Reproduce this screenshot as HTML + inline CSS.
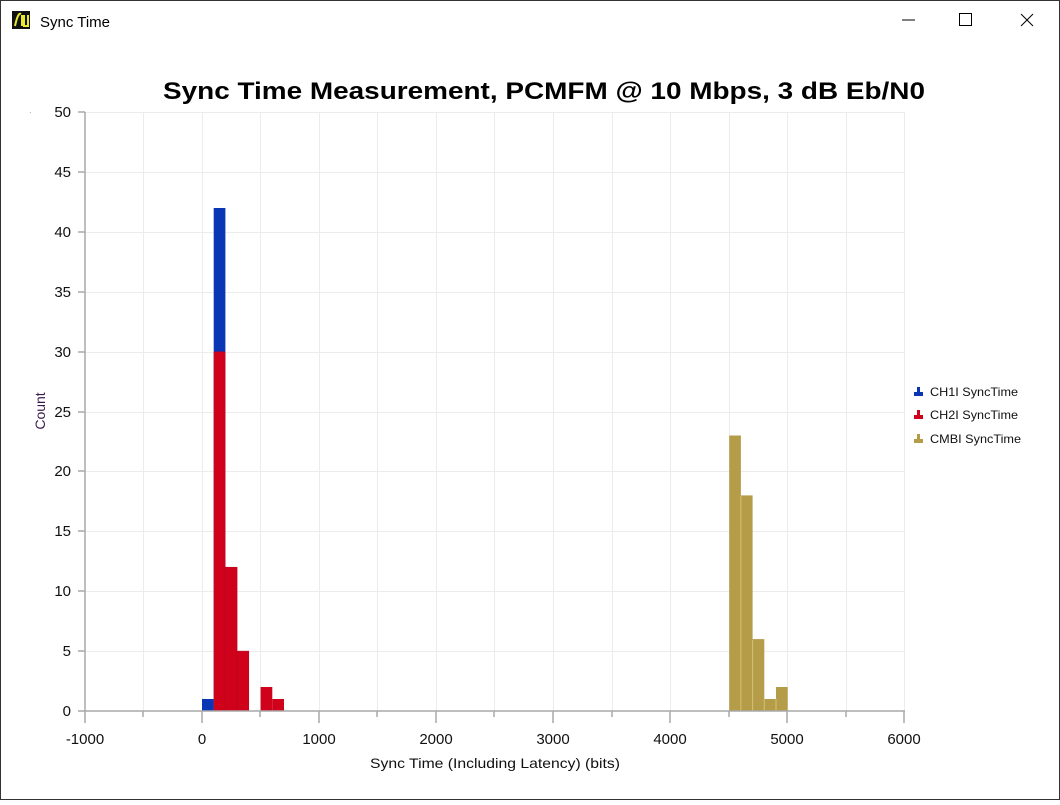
<!DOCTYPE html>
<html><head><style>
body{margin:0;width:1060px;height:800px;overflow:hidden;background:#fff;font-family:"Liberation Sans",sans-serif}
</style></head><body>
<svg width="1060" height="800" xmlns="http://www.w3.org/2000/svg" font-family="Liberation Sans, sans-serif">
<rect x="0.5" y="0.5" width="1059" height="799" fill="#fff" stroke="#333"/>
<rect x="12" y="11" width="18" height="18" fill="#111"/>
<path d="M15 26 Q18 12 21 14 M22 15 L22 26 M24 15 L24 26 L28 26 L28 15" stroke="#e8e830" stroke-width="2" fill="none"/>
<text x="40" y="27" font-size="15" fill="#000">Sync Time</text>
<line x1="902" y1="20" x2="915" y2="20" stroke="#000"/>
<rect x="959.5" y="13.5" width="12" height="12" fill="none" stroke="#000"/>
<path d="M1021 14 L1033 26 M1033 14 L1021 26" stroke="#000"/>
<text x="163" y="99" font-size="24" font-weight="bold" fill="#000" textLength="762" lengthAdjust="spacingAndGlyphs">Sync Time Measurement, PCMFM @ 10 Mbps, 3 dB Eb/N0</text>
<text x="29" y="115" font-size="8" fill="#88a">·</text>
<g stroke="#ececec" stroke-width="1">
<line x1="85" y1="112.5" x2="905" y2="112.5"/><line x1="85" y1="172.5" x2="905" y2="172.5"/><line x1="85" y1="232.5" x2="905" y2="232.5"/><line x1="85" y1="292.5" x2="905" y2="292.5"/><line x1="85" y1="352.5" x2="905" y2="352.5"/><line x1="85" y1="412.5" x2="905" y2="412.5"/><line x1="85" y1="471.5" x2="905" y2="471.5"/><line x1="85" y1="531.5" x2="905" y2="531.5"/><line x1="85" y1="591.5" x2="905" y2="591.5"/><line x1="85" y1="651.5" x2="905" y2="651.5"/>
<line x1="143.5" y1="112" x2="143.5" y2="711"/><line x1="202.5" y1="112" x2="202.5" y2="711"/><line x1="260.5" y1="112" x2="260.5" y2="711"/><line x1="319.5" y1="112" x2="319.5" y2="711"/><line x1="377.5" y1="112" x2="377.5" y2="711"/><line x1="436.5" y1="112" x2="436.5" y2="711"/><line x1="494.5" y1="112" x2="494.5" y2="711"/><line x1="553.5" y1="112" x2="553.5" y2="711"/><line x1="612.5" y1="112" x2="612.5" y2="711"/><line x1="670.5" y1="112" x2="670.5" y2="711"/><line x1="729.5" y1="112" x2="729.5" y2="711"/><line x1="787.5" y1="112" x2="787.5" y2="711"/><line x1="846.5" y1="112" x2="846.5" y2="711"/><line x1="904.5" y1="112" x2="904.5" y2="711"/>
</g>
<g>
<rect x="202" y="699" width="11.7" height="12" fill="#0a35b5"/>
<rect x="213.7" y="208" width="11.7" height="503" fill="#0a35b5"/>
<rect x="213.7" y="351.6" width="11.7" height="359.4" fill="#d0021b"/>
<rect x="225.4" y="567.2" width="11.7" height="143.8" fill="#d0021b" stroke="#b8001a" stroke-width="0.5"/>
<rect x="237.1" y="651.1" width="11.7" height="59.9" fill="#d0021b" stroke="#b8001a" stroke-width="0.5"/>
<rect x="260.6" y="687" width="11.7" height="24" fill="#d0021b"/>
<rect x="272.3" y="699" width="11.7" height="12" fill="#d0021b"/>
<rect x="729.2" y="435.5" width="11.7" height="275.5" fill="#b59c48"/>
<rect x="740.9" y="495.4" width="11.7" height="215.6" fill="#b59c48"/>
<rect x="752.6" y="639.1" width="11.7" height="71.9" fill="#b59c48"/>
<rect x="764.3" y="699" width="11.7" height="12" fill="#b59c48"/>
<rect x="776" y="687" width="11.7" height="24" fill="#b59c48"/>
<g stroke="#d4c07a" stroke-width="1"><line x1="740.9" y1="496" x2="740.9" y2="711"/><line x1="752.6" y1="640" x2="752.6" y2="711"/><line x1="764.3" y1="699" x2="764.3" y2="711"/><line x1="776" y1="699" x2="776" y2="711"/></g>
</g>
<g stroke="#a8a8a8" stroke-width="1.5">
<line x1="85" y1="112" x2="85" y2="711"/><line x1="85" y1="711" x2="905" y2="711"/>
<line x1="78" y1="112" x2="85" y2="112"/><line x1="78" y1="172" x2="85" y2="172"/><line x1="78" y1="232" x2="85" y2="232"/><line x1="78" y1="292" x2="85" y2="292"/><line x1="78" y1="352" x2="85" y2="352"/><line x1="78" y1="412" x2="85" y2="412"/><line x1="78" y1="471" x2="85" y2="471"/><line x1="78" y1="531" x2="85" y2="531"/><line x1="78" y1="591" x2="85" y2="591"/><line x1="78" y1="651" x2="85" y2="651"/><line x1="78" y1="711" x2="85" y2="711"/>
<line x1="85" y1="711" x2="85" y2="723"/><line x1="202" y1="711" x2="202" y2="723"/><line x1="319" y1="711" x2="319" y2="723"/><line x1="436" y1="711" x2="436" y2="723"/><line x1="553" y1="711" x2="553" y2="723"/><line x1="670" y1="711" x2="670" y2="723"/><line x1="787" y1="711" x2="787" y2="723"/><line x1="904" y1="711" x2="904" y2="723"/>
<line x1="143" y1="711" x2="143" y2="717"/><line x1="260" y1="711" x2="260" y2="717"/><line x1="377" y1="711" x2="377" y2="717"/><line x1="494" y1="711" x2="494" y2="717"/><line x1="612" y1="711" x2="612" y2="717"/><line x1="729" y1="711" x2="729" y2="717"/><line x1="846" y1="711" x2="846" y2="717"/>
</g>
<g font-size="15" fill="#111" text-anchor="end">
<text x="71" y="117">50</text><text x="71" y="177">45</text><text x="71" y="237">40</text><text x="71" y="297">35</text><text x="71" y="357">30</text><text x="71" y="417">25</text><text x="71" y="476">20</text><text x="71" y="536">15</text><text x="71" y="596">10</text><text x="71" y="656">5</text><text x="71" y="716">0</text>
</g>
<g font-size="15" fill="#111" text-anchor="middle">
<text x="85" y="744">-1000</text><text x="202" y="744">0</text><text x="319" y="744">1000</text><text x="436" y="744">2000</text><text x="553" y="744">3000</text><text x="670" y="744">4000</text><text x="787" y="744">5000</text><text x="904" y="744">6000</text>
</g>
<text x="370" y="768" font-size="14" fill="#111" textLength="250" lengthAdjust="spacingAndGlyphs">Sync Time (Including Latency) (bits)</text>
<text transform="translate(45,411) rotate(-90)" font-size="14" text-anchor="middle" fill="#3a1a4a">Count</text>
<g font-size="12" fill="#111">
<path d="M914 396 h9 v-4 h-3 v-5 h-3 v5 h-3z" fill="#0a35b5"/><text x="930" y="396" textLength="88" lengthAdjust="spacingAndGlyphs">CH1I SyncTime</text>
<path d="M914 419 h9 v-4 h-3 v-5 h-3 v5 h-3z" fill="#d0021b"/><text x="930" y="419" textLength="88" lengthAdjust="spacingAndGlyphs">CH2I SyncTime</text>
<path d="M914 443 h9 v-4 h-3 v-5 h-3 v5 h-3z" fill="#b59c48"/><text x="930" y="443" textLength="91" lengthAdjust="spacingAndGlyphs">CMBI SyncTime</text>
</g>
</svg>
</body></html>
